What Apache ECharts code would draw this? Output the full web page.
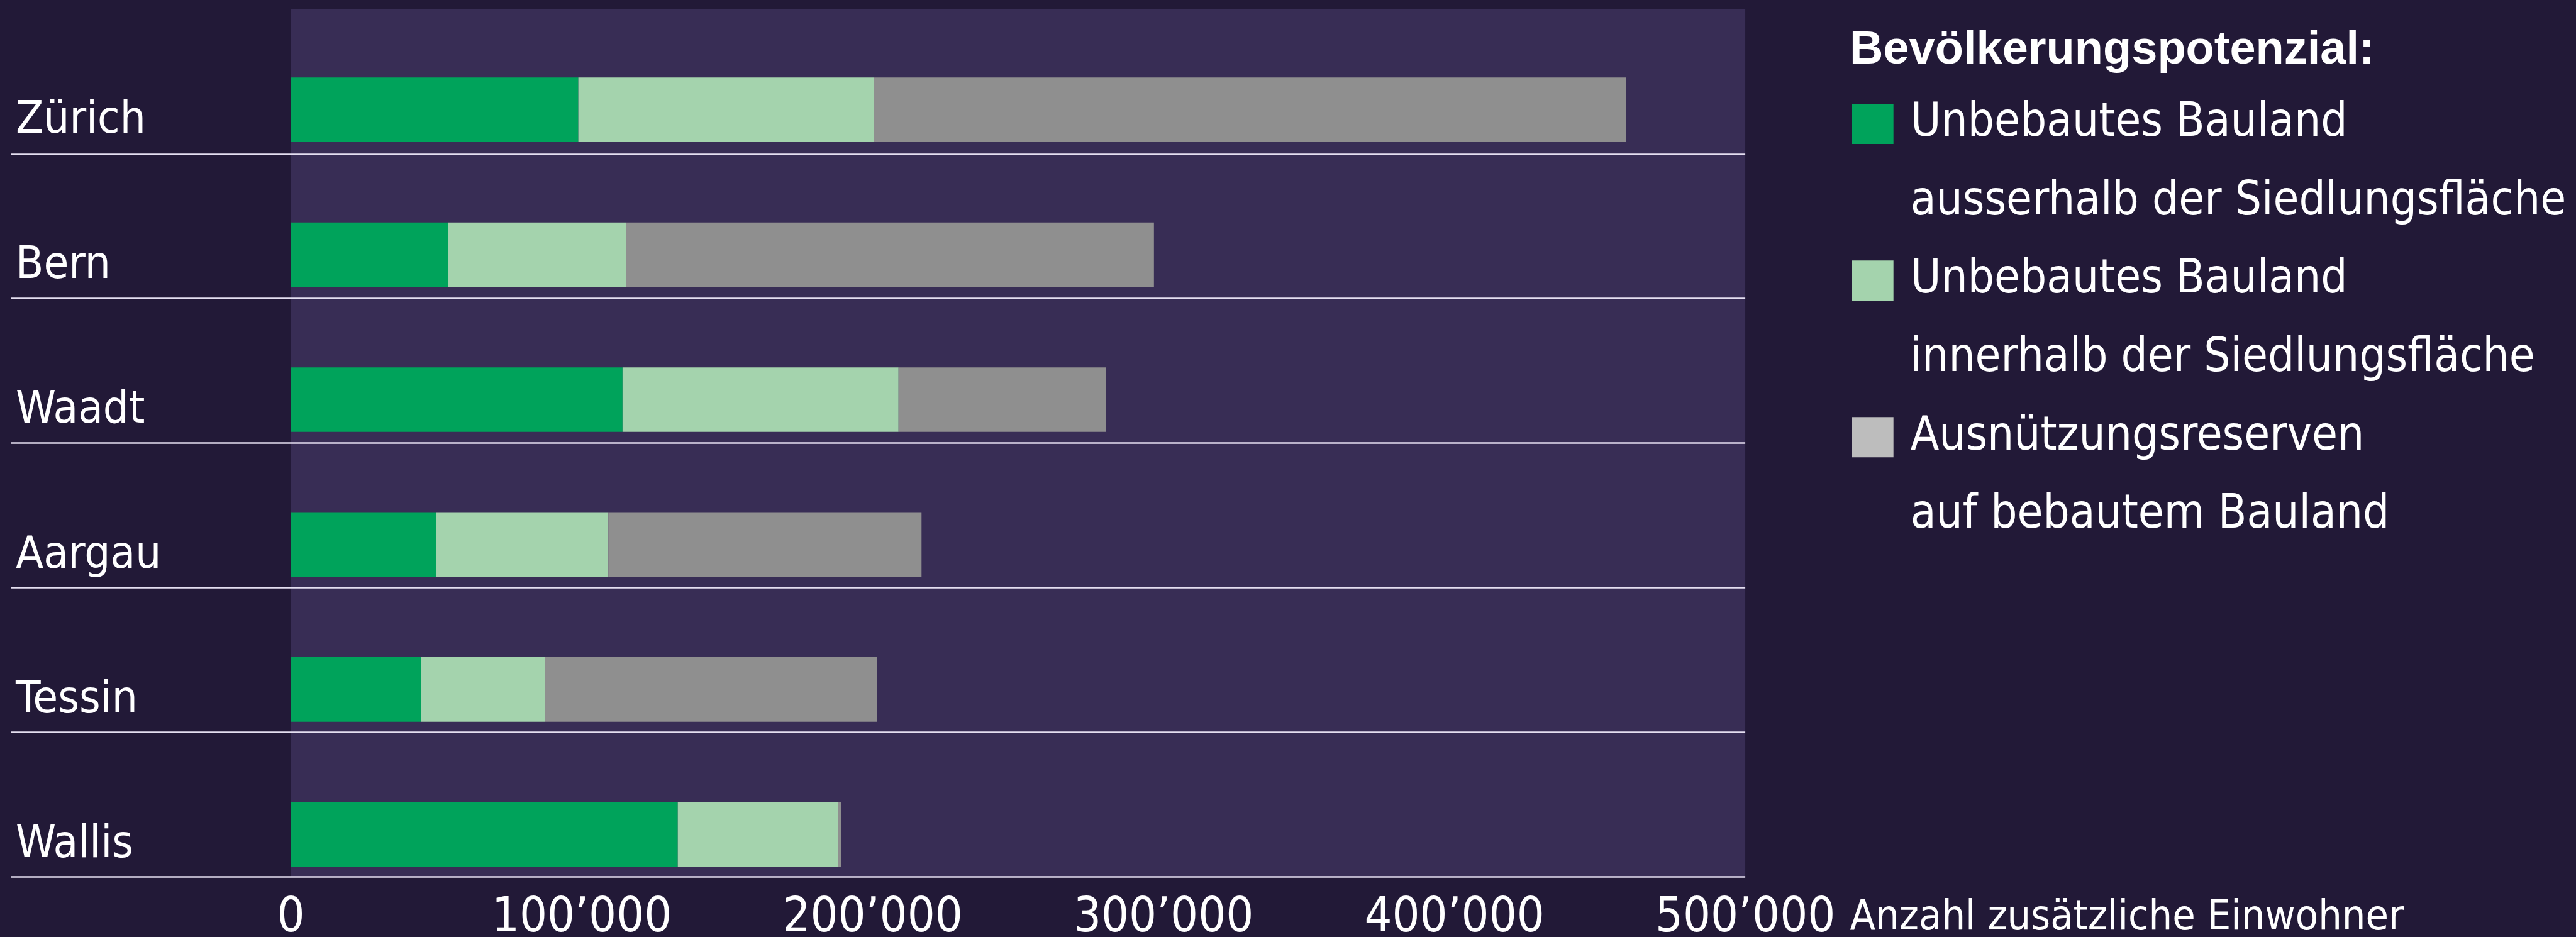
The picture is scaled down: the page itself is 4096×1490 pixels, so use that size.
<!DOCTYPE html>
<html>
<head>
<meta charset="utf-8">
<script src="https://cdn.jsdelivr.net/npm/echarts@6/dist/echarts.min.js"></script>
<style>
html,body{margin:0;padding:0;background:#221937;}
#c{width:4096px;height:1490px;}
</style>
</head>
<body>
<div id="c"></div>
<script>
// ---- data (values in persons) ----
const categories = ['Zürich', 'Bern', 'Waadt', 'Aargau', 'Tessin', 'Wallis'];
const ausserhalb = [98800, 54100, 114000, 50000, 44700, 133000];
const innerhalb  = [101700, 61200, 94900, 59100, 42600, 55100];
const reserven   = [258500, 181400, 71400, 107700, 114100, 1100];
const seriesNames = [
  'Unbebautes Bauland\nausserhalb der Siedlungsfläche',
  'Unbebautes Bauland\ninnerhalb der Siedlungsfläche',
  'Ausnützungsreserven\nauf bebautem Bauland'
];
const legendTitle = 'Bevölkerungspotenzial:';
const axisTitle = 'Anzahl zusätzliche Einwohner';
const xMin = 0, xMax = 500000, xStep = 100000;

// ---- styles ----
const NARROW = "'Liberation Sans Narrow', 'DejaVu Sans Condensed', sans-serif";
const BG = '#221937';
const PLOT = '#382d55';
const C_DARK = '#00a35b';
const C_LIGHT = '#a4d3ad';
const C_GRAY = '#8f8f8f';
const C_GRAY_LEG = '#bdbdbd';
const SEP = '#e4def0';

function fmt(v) {
  return String(v).replace(/\B(?=(\d{3})+(?!\d))/g, '\u2019');
}

const LH = 124.7;
const chart = echarts.init(document.getElementById('c'), null, {renderer: 'canvas'});
chart.setOption({
  animation: false,
  backgroundColor: BG,
  title: {
    text: legendTitle,
    left: 2941, top: 44, padding: 0,
    textStyle: {color: '#ffffff', fontSize: 74, fontWeight: 'bold', fontFamily: "'Liberation Sans', Arial, sans-serif", lineHeight: 74}
  },
  legend: {
    orient: 'vertical',
    left: 2945, top: 9.9, padding: 0,
    itemGap: -124.9,
    itemWidth: 65.7, itemHeight: 64,
    icon: 'rect',
    selectedMode: false,
    formatter: function (name) { return '\n' + name; },
    textStyle: {color: '#ffffff', fontSize: 74, fontFamily: NARROW, lineHeight: LH, padding: [0, 0, 0, 22]},
    data: [
      {name: seriesNames[0], itemStyle: {color: C_DARK}},
      {name: seriesNames[1], itemStyle: {color: C_LIGHT}},
      {name: seriesNames[2], itemStyle: {color: C_GRAY_LEG}}
    ]
  },
  grid: [
    // bars
    {left: 462.6, right: 1320.9, top: 59.4, bottom: 48, show: false, containLabel: false, outerBoundsMode: 'none'},
    // plot background + x labels
    {left: 462.6, right: 1320.9, top: 14.4, bottom: 95.5, show: true, backgroundColor: PLOT, borderWidth: 0, z: -1, containLabel: false, outerBoundsMode: 'none'},
    // separators
    {left: 17.2, right: 1320.9, top: 14.9, bottom: 95.9, show: false, containLabel: false, outerBoundsMode: 'none'}
  ],
  xAxis: [
    {gridIndex: 0, type: 'value', min: xMin, max: xMax, interval: xStep, show: false},
    {gridIndex: 1, type: 'value', min: xMin, max: xMax, interval: xStep,
      axisLine: {show: false}, axisTick: {show: false}, splitLine: {show: false},
      axisLabel: {color: '#ffffff', fontSize: 77, fontFamily: NARROW, margin: 9, verticalAlign: 'top', lineHeight: 114, formatter: fmt},
      name: axisTitle, nameLocation: 'end', nameGap: 166.5,
      nameTextStyle: {color: '#ffffff', fontSize: 66, fontFamily: NARROW, verticalAlign: 'top', lineHeight: 133, align: 'left'}
    },
    {gridIndex: 2, type: 'value', min: 0, max: 1, show: false}
  ],
  yAxis: [
    {gridIndex: 0, type: 'category', data: categories, inverse: true,
      axisLine: {show: false}, axisTick: {show: false}, splitLine: {show: false},
      axisLabel: {color: '#ffffff', fontSize: 72, fontFamily: NARROW, align: 'left', margin: 437.6, verticalAlign: 'top', lineHeight: 36}
    },
    {gridIndex: 1, type: 'value', min: 0, max: 1, show: false},
    {gridIndex: 2, type: 'value', min: 0, max: 6, interval: 1, z: 1,
      axisLine: {show: false}, axisTick: {show: false}, axisLabel: {show: false},
      splitLine: {show: true, showMaxLine: false, lineStyle: {color: SEP, width: 2.6}}
    }
  ],
  series: [
    {name: seriesNames[0], type: 'bar', stack: 'total', xAxisIndex: 0, yAxisIndex: 0, barWidth: 102.7,
      itemStyle: {color: C_DARK}, data: ausserhalb},
    {name: seriesNames[1], type: 'bar', stack: 'total', xAxisIndex: 0, yAxisIndex: 0, barWidth: 102.7,
      itemStyle: {color: C_LIGHT}, data: innerhalb},
    {name: seriesNames[2], type: 'bar', stack: 'total', xAxisIndex: 0, yAxisIndex: 0, barWidth: 102.7,
      itemStyle: {color: C_GRAY}, data: reserven}
  ]
});
</script>
</body>
</html>
